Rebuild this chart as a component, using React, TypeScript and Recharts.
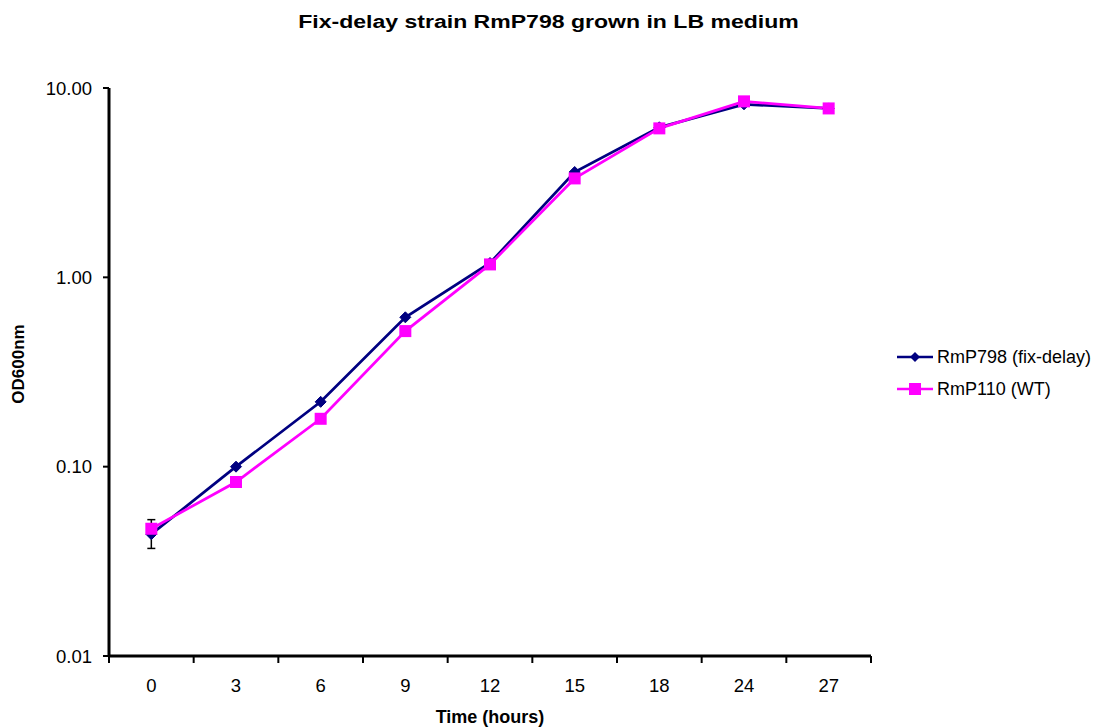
import React from 'react';
import { LineChart, Line, XAxis, YAxis, ErrorBar } from 'recharts';

const times = ['0', '3', '6', '9', '12', '15', '18', '24', '27'];
const fixDelay = [0.044, 0.1, 0.22, 0.615, 1.19, 3.6, 6.2, 8.2, 7.8];
const wildType = [0.047, 0.083, 0.179, 0.52, 1.17, 3.33, 6.12, 8.5, 7.8];
// only the first time point has a visible error bar
const fixDelayErr: ([number, number] | null)[] = [[0.007, 0.0085], null, null, null, null, null, null, null, null];
const yTicks = [0.01, 0.1, 1, 10];

const FONT = '"Liberation Sans", Arial, sans-serif';
const NAVY = '#000080';
const PINK = '#FF00FF';

const PLOT_LEFT = 109;
const PLOT_RIGHT = 871;
const BAND = (PLOT_RIGHT - PLOT_LEFT) / times.length;

const data = times.map((t, i) => ({
  time: t,
  fixDelay: fixDelay[i],
  wildType: wildType[i],
  ...(fixDelayErr[i] ? { err: fixDelayErr[i] } : {}),
}));

const DiamondDot = (props: any) => {
  const { cx, cy, index } = props;
  if (cx == null || cy == null) return <g key={`d-${index}`} />;
  const r = 5.5;
  return (
    <path
      key={`d-${index}`}
      d={`M${cx},${cy - r}L${cx + r},${cy}L${cx},${cy + r}L${cx - r},${cy}Z`}
      fill={NAVY}
      stroke={NAVY}
    />
  );
};

const SquareDot = (props: any) => {
  const { cx, cy, index } = props;
  if (cx == null || cy == null) return <g key={`s-${index}`} />;
  const s = 12;
  return <rect key={`s-${index}`} x={cx - s / 2} y={cy - s / 2} width={s} height={s} fill={PINK} />;
};

const TimeTick = (props: any) => {
  const { x, y, payload, index } = props;
  return (
    <g>
      <line x1={x - BAND / 2} y1={y} x2={x - BAND / 2} y2={y + 7} stroke="#000" strokeWidth={2} />
      {index === times.length - 1 && (
        <line x1={x + BAND / 2} y1={y} x2={x + BAND / 2} y2={y + 7} stroke="#000" strokeWidth={2} />
      )}
      <text x={x} y={y + 36} textAnchor="middle" fontSize={18.5} fontFamily={FONT} fill="#000">
        {payload.value}
      </text>
    </g>
  );
};

const ChartLegend = () => {
  const rows = [
    { name: 'RmP798 (fix-delay)', color: NAVY, shape: 'diamond' },
    { name: 'RmP110 (WT)', color: PINK, shape: 'square' },
  ];
  return (
    <div style={{ position: 'absolute', left: 897, top: 341, fontFamily: FONT, fontSize: 18, color: '#000' }}>
      {rows.map((r) => (
        <div key={r.name} style={{ display: 'flex', alignItems: 'center', height: 32 }}>
          <svg width={40} height={20} style={{ display: 'block' }}>
            <line x1={0} y1={10} x2={36} y2={10} stroke={r.color} strokeWidth={2.5} />
            {r.shape === 'diamond' ? (
              <path d="M18,5L23,10L18,15L13,10Z" fill={r.color} />
            ) : (
              <rect x={12} y={4} width={12} height={12} fill={r.color} />
            )}
          </svg>
          <span style={{ whiteSpace: 'nowrap' }}>{r.name}</span>
        </div>
      ))}
    </div>
  );
};

export default function App() {
  return (
    <div style={{ position: 'absolute', left: 0, top: 0, width: 1097, height: 727, background: '#fff', fontFamily: FONT }}>
      <div
        style={{
          position: 'absolute',
          left: 0,
          top: 11,
          width: 1097,
          textAlign: 'center',
          fontSize: 18,
          lineHeight: '22px',
          fontWeight: 'bold',
          transform: 'scaleX(1.28)',
        }}
      >
        Fix-delay strain RmP798 grown in LB medium
      </div>
      <div
        style={{
          position: 'absolute',
          left: 19 - 60,
          top: 364 - 10,
          width: 120,
          textAlign: 'center',
          fontSize: 17,
          lineHeight: '20px',
          fontWeight: 'bold',
          transform: 'rotate(-90deg)',
        }}
      >
        OD600nm
      </div>
      <div
        style={{
          position: 'absolute',
          left: 490 - 100,
          top: 717 - 11,
          width: 200,
          textAlign: 'center',
          fontSize: 18,
          lineHeight: '22px',
          fontWeight: 'bold',
        }}
      >
        Time (hours)
      </div>
      <ChartLegend />
      <LineChart
        width={1097}
        height={727}
        data={data}
        margin={{ top: 88, right: 1097 - PLOT_RIGHT, bottom: 41, left: PLOT_LEFT - 60 }}
      >
        <XAxis
          dataKey="time"
          height={30}
          interval={0}
          padding={{ left: BAND / 2, right: BAND / 2 }}
          axisLine={{ stroke: '#000', strokeWidth: 3 }}
          tickLine={false}
          tickSize={0}
          tickMargin={0}
          tick={<TimeTick />}
        />
        <YAxis
          width={60}
          scale="log"
          domain={[0.01, 10]}
          ticks={yTicks}
          allowDataOverflow
          axisLine={{ stroke: '#000', strokeWidth: 3 }}
          tickLine={{ stroke: '#000', strokeWidth: 2 }}
          tickSize={6}
          tickMargin={11}
          tick={{ fill: '#000', fontSize: 18.5, fontFamily: FONT }}
          tickFormatter={(v: number) => v.toFixed(2)}
        />
        <Line
          dataKey="fixDelay"
          name="RmP798 (fix-delay)"
          stroke={NAVY}
          strokeWidth={2.75}
          dot={DiamondDot}
          activeDot={false}
          isAnimationActive={false}
        >
          <ErrorBar dataKey="err" width={4} stroke="#000" strokeWidth={1.5} isAnimationActive={false} />
        </Line>
        <Line
          dataKey="wildType"
          name="RmP110 (WT)"
          stroke={PINK}
          strokeWidth={2.75}
          dot={SquareDot}
          activeDot={false}
          isAnimationActive={false}
        />
      </LineChart>
    </div>
  );
}
